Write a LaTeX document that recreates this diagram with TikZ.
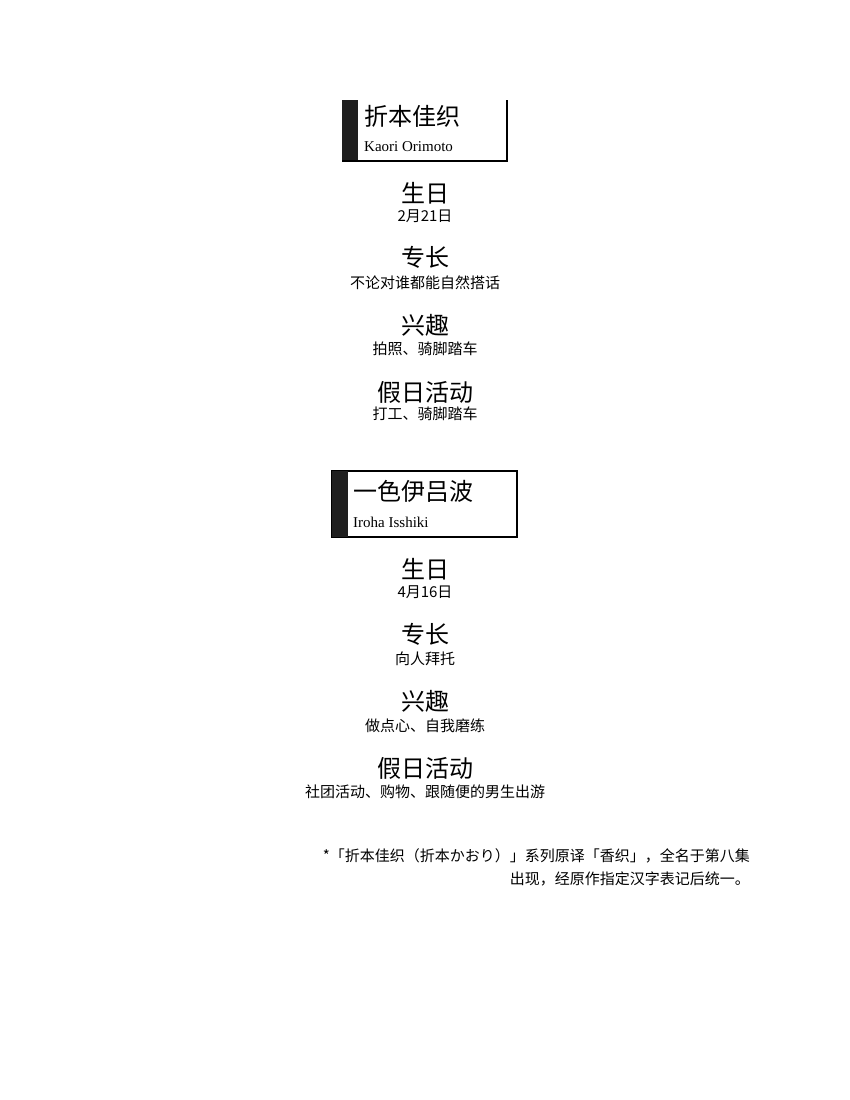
\documentclass[tikz,border=0pt]{standalone}
\usepackage{fontspec}
\setmainfont{Liberation Serif}
\newfontfamily\cjk{Noto Sans CJK SC}
\begin{document}
\begin{tikzpicture}[x=1pt,y=-1pt,
  head/.style={font=\cjk\fontsize{24}{26}\selectfont,inner sep=0pt},
  sub/.style={font=\cjk\fontsize{15}{17}\selectfont,inner sep=0pt},
  nm/.style={font=\cjk\fontsize{24}{26}\selectfont,inner sep=0pt,anchor=west},
  rom/.style={font=\fontsize{15}{17}\selectfont,inner sep=0pt,anchor=west},
  foot/.style={font=\cjk\fontsize{15}{23}\selectfont,inner sep=0pt,align=right,anchor=north east}]
\useasboundingbox[fill=white] (0,0) rectangle (850,1100);
% box 1
\fill[black!88] (342,100) rectangle (358,161);
\draw[line width=1.5pt] (507,100) -- (507,161) -- (342,161);
\node[nm] (n1) at (364,116) {折本佳织};
\node[rom] (r1) at (364,147) {Kaori Orimoto};
\node[head] (a1) at (425,193) {生日};
\node[sub] (a2) at (425,216) {2月21日};
\node[head] (b1) at (425,257) {专长};
\node[sub] (b2) at (425,283) {不论对谁都能自然搭话};
\node[head] (c1) at (425,325) {兴趣};
\node[sub] (c2) at (425,349) {拍照、骑脚踏车};
\node[head] (d1) at (425,392) {假日活动};
\node[sub] (d2) at (425,414) {打工、骑脚踏车};
% box 2
\draw[line width=1.5pt] (332,471) rectangle (517,537);
\fill[black!88] (332,471) rectangle (348,537);
\node[nm] (n2) at (353,491) {一色伊吕波};
\node[rom] (r2) at (353,522) {Iroha Isshiki};
\node[head] (e1) at (425,569) {生日};
\node[sub] (e2) at (425,592) {4月16日};
\node[head] (f1) at (425,634) {专长};
\node[sub] (f2) at (425,659) {向人拜托};
\node[head] (g1) at (425,701) {兴趣};
\node[sub] (g2) at (425,726) {做点心、自我磨练};
\node[head] (h1) at (425,768) {假日活动};
\node[sub] (h2) at (425,792) {社团活动、购物、跟随便的男生出游};
\node[foot] (ft) at (750,848) {*「折本佳织（折本かおり）」系列原译「香织」，全名于第八集\\出现，经原作指定汉字表记后统一。};
\end{tikzpicture}
\end{document}
